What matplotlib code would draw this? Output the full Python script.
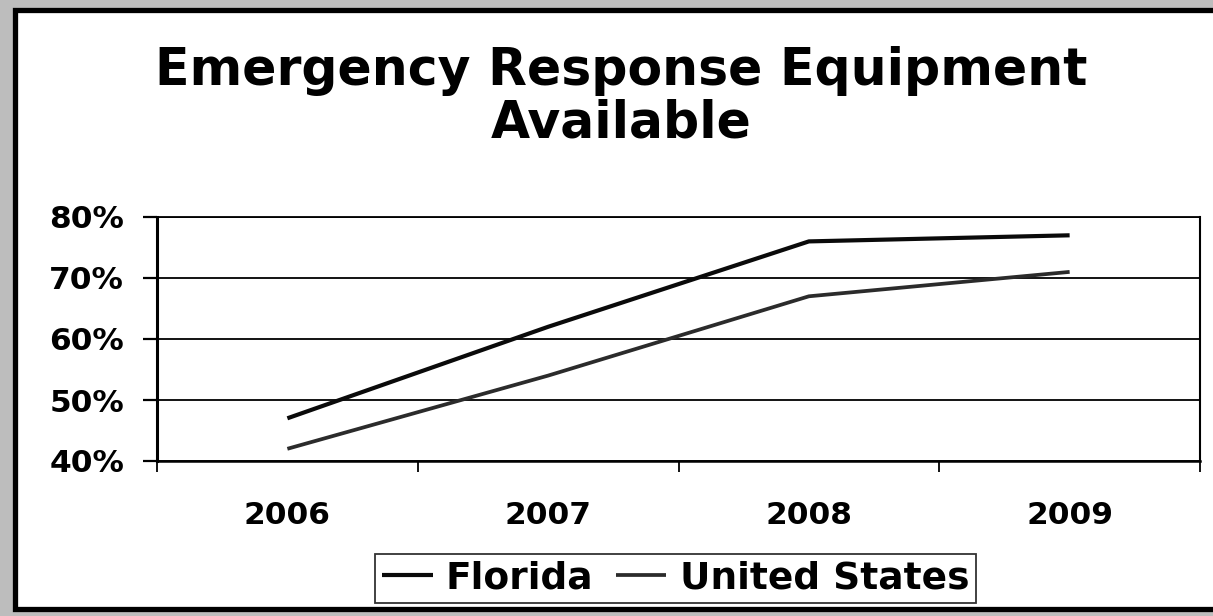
import matplotlib
matplotlib.use("Agg")
import matplotlib.pyplot as plt
from matplotlib.patches import Rectangle
from matplotlib.ticker import FixedLocator, FuncFormatter

# ---- data ----
years = ["2006", "2007", "2008", "2009"]
florida = [47, 62, 76, 77]
united_states = [42, 54, 67, 71]
y_ticks = [40, 50, 60, 70, 80]
title_line1 = "Emergency Response Equipment"
title_line2 = "Available"

W, H = 1213, 616
fig = plt.figure(figsize=(W / 100, H / 100), dpi=100)
fig.patch.set_facecolor("#bdbdbd")
plt.rcParams["font.family"] = ["DejaVu Sans"]

# white chart panel with thick black frame
frame = Rectangle((14.5 / W, 1 - 608.5 / H), 1.2, (608.5 - 9.5) / H,
                  transform=fig.transFigure, facecolor="white",
                  edgecolor="black", linewidth=3.8, zorder=-5)
fig.patches.append(frame)

# titles
fig.text(621 / W, 1 - 85 / H, title_line1, ha="center", va="baseline",
         fontsize=36.4, fontweight="bold", color="black")
fig.text(621 / W, 1 - 138 / H, title_line2, ha="center", va="baseline",
         fontsize=36.4, fontweight="bold", color="black")

ax = fig.add_axes([157 / W, 1 - 461 / H, (1200 - 157) / W, (461 - 217) / H])
ax.set_zorder(2)
ax.set_facecolor("white")
x = list(range(len(years)))
l1, = ax.plot(x, florida, color="#0a0a0a", lw=3.0, solid_capstyle="butt",
              label="Florida", zorder=3)
l2, = ax.plot(x, united_states, color="#2b2b2b", lw=2.7, solid_capstyle="butt",
              label="United States", zorder=3)

ax.set_xlim(-0.5, len(years) - 0.5)
ax.set_ylim(40, 80)
ax.set_yticks(y_ticks)
ax.yaxis.set_major_formatter(FuncFormatter(lambda v, p: f"{int(v)}%"))
ax.grid(axis="y", color="black", lw=1.3, zorder=1)

ax.xaxis.set_major_locator(FixedLocator([i - 0.5 for i in range(len(years) + 1)]))
ax.xaxis.set_minor_locator(FixedLocator(x))
ax.set_xticklabels([])
ax.set_xticklabels(years, minor=True)
ax.tick_params(axis="x", which="major", direction="out", length=8, width=1.3,
               color="black")
ax.tick_params(axis="x", which="minor", length=0, pad=29,
               labelsize=22.5)
ax.tick_params(axis="y", direction="out", length=10, width=1.6, pad=13.7,
               labelsize=22.5)
for lab in ax.get_xticklabels(minor=True) + ax.get_yticklabels():
    lab.set_fontweight("bold")

ax.spines["left"].set_linewidth(2.2)
ax.spines["bottom"].set_linewidth(1.8)
ax.spines["right"].set_linewidth(1.5)
ax.spines["top"].set_linewidth(1.3)
for s in ax.spines.values():
    s.set_color("black")

leg = fig.legend(handles=[l1, l2], loc="center",
                 bbox_to_anchor=(675.5 / W, 1 - 578.5 / H), ncol=2,
                 frameon=True, fancybox=False, edgecolor="black",
                 prop={"weight": "bold", "size": 27},
                 handlelength=1.35, handletextpad=0.35, columnspacing=0.6,
                 borderpad=0.18, borderaxespad=0)
leg.get_frame().set_linewidth(1.3)

fig.savefig("out.png", dpi=100, facecolor=fig.get_facecolor())
